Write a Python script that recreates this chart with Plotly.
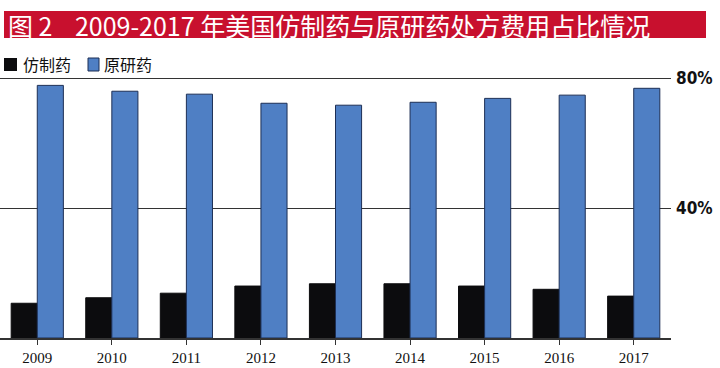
import plotly.graph_objects as go

years = ["2009", "2010", "2011", "2012", "2013", "2014", "2015", "2016", "2017"]
generic = [10.7, 12.4, 13.8, 16.0, 16.7, 16.7, 16.0, 15.0, 12.9]
brand = [77.8, 76.0, 75.1, 72.3, 71.7, 72.6, 73.8, 74.8, 76.9]
series_names = ["仿制药", "原研药"]
y_tickvals = [40, 80]
y_ticktext = ["40%", "80%"]
title_text = "图 2    2009-2017 年美国仿制药与原研药处方费用占比情况"

black = "#0c0c0e"
blue = "#4f7fc4"
outline = "#1d2f55"
red = "#c8102e"

W, H = 720, 368
L, R, T, B = 0, 49, 75, 30
pw = W - L - R
ph = H - T - B

def px(x):
    return (x - L) / pw

def py(y):
    return (H - B - y) / ph

fig = go.Figure()
fig.add_trace(go.Bar(x=years, y=generic, name=series_names[0],
                     marker=dict(color=black, line=dict(color=black, width=1))))
fig.add_trace(go.Bar(x=years, y=brand, name=series_names[1],
                     marker=dict(color=blue, line=dict(color=outline, width=1))))

shapes = [
    dict(type="rect", xref="paper", yref="paper", x0=px(4), x1=px(706), y0=py(38), y1=py(11),
         fillcolor=red, line=dict(width=0), layer="above"),
    dict(type="rect", xref="paper", yref="paper", x0=px(4), x1=px(17), y0=py(71), y1=py(58),
         fillcolor=black, line=dict(width=0)),
    dict(type="rect", xref="paper", yref="paper", x0=px(88), x1=px(99), y0=py(71), y1=py(58),
         fillcolor=blue, line=dict(color=outline, width=1)),
]
annotations = [
    dict(text=title_text, xref="paper", yref="paper", x=px(6), y=py(24.5), xanchor="left",
         yanchor="middle", showarrow=False,
         font=dict(family="Noto Sans CJK SC", size=25, color="white")),
    dict(text=series_names[0], xref="paper", yref="paper", x=px(21), y=py(64), xanchor="left",
         yanchor="middle", showarrow=False,
         font=dict(family="Noto Sans CJK SC", size=16, color="#111")),
    dict(text=series_names[1], xref="paper", yref="paper", x=px(102), y=py(64), xanchor="left",
         yanchor="middle", showarrow=False,
         font=dict(family="Noto Sans CJK SC", size=16, color="#111")),
]

fig.update_layout(
    width=W, height=H,
    margin=dict(l=L, r=R, t=T, b=B, pad=0),
    paper_bgcolor="white", plot_bgcolor="white",
    barmode="group", bargap=0.3, bargroupgap=0,
    showlegend=False,
    shapes=shapes, annotations=annotations,
    xaxis=dict(type="category", showline=True, linecolor="#333", linewidth=1.5,
               ticks="outside", ticklen=5, tickcolor="#333", tickwidth=1,
               tickfont=dict(family="Liberation Serif", size=15, color="#111"),
               showgrid=False, zeroline=False, range=[-0.5, 8.5]),
    yaxis=dict(side="right", range=[0, 81], tickvals=y_tickvals, ticktext=y_ticktext,
               showgrid=True, gridcolor="#333", gridwidth=1,
               ticks="", ticklabelstandoff=4,
               tickfont=dict(family="DejaVu Sans Condensed", size=17,
                             color="#111", weight="bold"),
               zeroline=False, showline=False),
)

fig.write_html("out.html", config={"displayModeBar": False},
               post_script="document.body.style.margin='0';document.body.style.overflow='hidden';")
